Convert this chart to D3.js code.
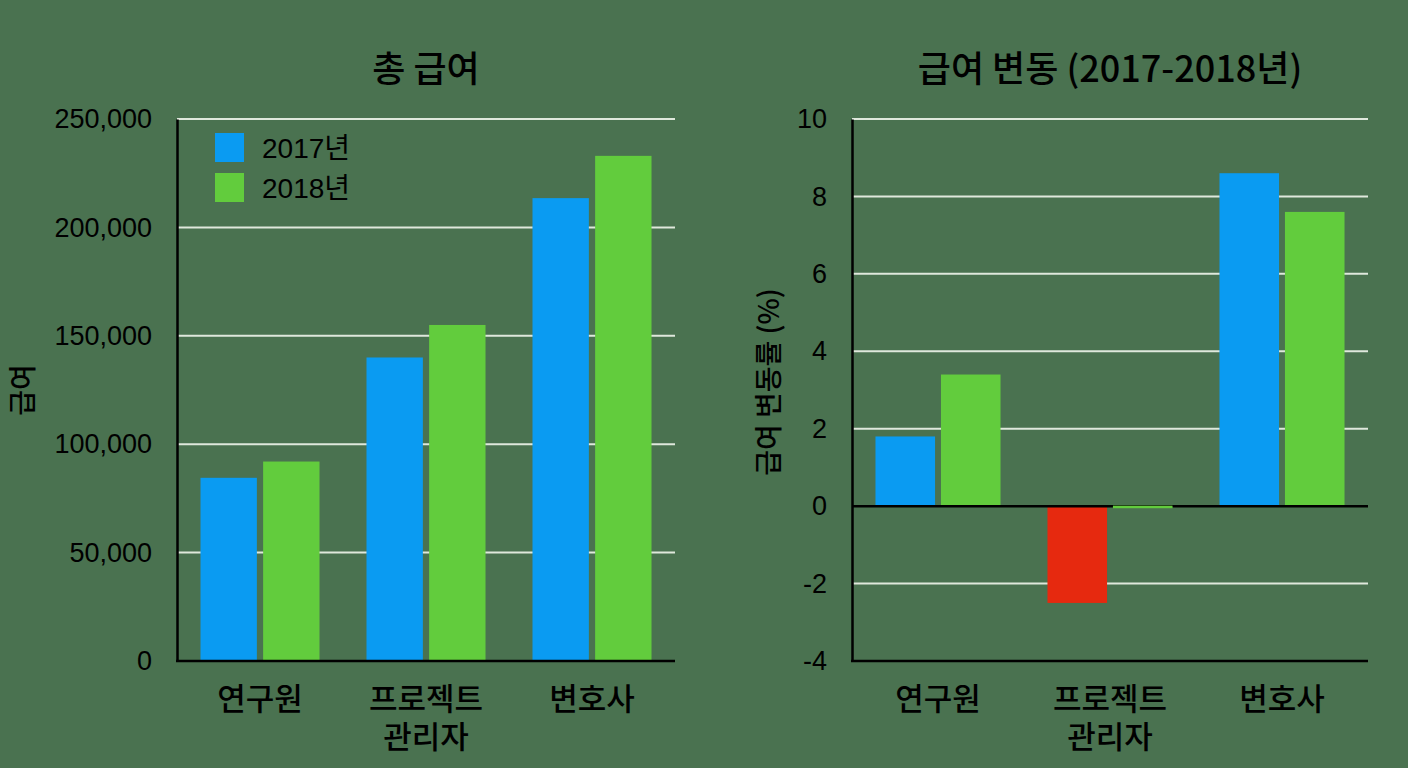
<!DOCTYPE html>
<html><head><meta charset="utf-8">
<script src="https://cdn.jsdelivr.net/npm/d3@7/dist/d3.min.js"></script>
<style>
html,body{margin:0;padding:0;background:#4a7250;}
text{font-family:"Noto Sans CJK KR","Noto Sans",sans-serif;fill:#000;}
</style></head>
<body><svg id="c" width="1408" height="768"></svg>
<script>
const categories = ["연구원", "프로젝트\n관리자", "변호사"];
const seriesNames = ["2017년", "2018년"];
const salary2017 = [84500, 140000, 213500];
const salary2018 = [92000, 155000, 233000];
const change2017 = [1.8, -2.5, 8.6];
const change2018 = [3.4, -0.05, 7.6];
const salaryTicks = [0, 50000, 100000, 150000, 200000, 250000];
const changeTicks = [-4, -2, 0, 2, 4, 6, 8, 10];
const colors = ["#0a9bf2", "#62cc3d"];
const negColor = "#e6290f";

const svg = d3.select("#c");
svg.append("rect").attr("width",1408).attr("height",768).attr("fill","#4a7250");

function drawChart(o){
  const g = svg.append("g");
  const x0 = d3.scaleBand().domain(categories).range([o.left,o.right])
      .paddingInner(o.pi).paddingOuter(o.pi/2);
  const x1 = d3.scaleBand().domain(seriesNames).range([0,x0.bandwidth()]).paddingInner(o.inner);
  const y = d3.scaleLinear().domain(o.domain).range([o.bottom,o.top]);
  g.selectAll(".grid").data(o.ticks.filter(t=>t!==o.domain[0] && t!==0))
    .join("line").attr("x1",o.left).attr("x2",o.right)
    .attr("y1",d=>y(d)).attr("y2",d=>y(d))
    .attr("stroke","#dfe8dc").attr("stroke-width",2);
  const data = [];
  categories.forEach((c,i)=>{
    o.series.forEach((s,j)=>data.push({c, s:seriesNames[j], v:s[i], j}));
  });
  g.selectAll(".bar").data(data).join("rect")
    .attr("x",d=>x0(d.c)+x1(d.s)).attr("width",x1.bandwidth())
    .attr("y",d=>y(Math.max(0,d.v))).attr("height",d=>Math.abs(y(d.v)-y(0)))
    .attr("fill",d=>(d.v<=-0.5)?negColor:colors[d.j]);
  if(o.domain[0]<0){
    g.append("line").attr("x1",o.left).attr("x2",o.right).attr("y1",y(0)).attr("y2",y(0))
      .attr("stroke","#000").attr("stroke-width",2.5);
    g.selectAll(".tiny").data(data.filter(d=>Math.abs(d.v)<0.3 && d.v!==0)).join("rect")
      .attr("x",d=>x0(d.c)+x1(d.s)).attr("width",x1.bandwidth())
      .attr("y",y(0)-0.5).attr("height",2.5).attr("fill",d=>colors[d.j]);
  }
  const ya = g.append("g").attr("transform",`translate(${o.left},0)`)
    .call(d3.axisLeft(y).tickValues(o.ticks).tickSize(0).tickPadding(25).tickFormat(o.fmt));
  ya.select(".domain").attr("stroke","#000").attr("stroke-width",2.5);
  ya.selectAll("text").attr("font-size",27).attr("fill","#000").style("font-family","'Liberation Sans',Arial,sans-serif");
  g.append("line").attr("x1",o.left-1).attr("x2",o.right).attr("y1",o.bottom).attr("y2",o.bottom)
    .attr("stroke","#000").attr("stroke-width",2.5);
  categories.forEach(c=>{
    c.split("\n").forEach((l,k)=>{
      g.append("text").attr("x",x0(c)+x0.bandwidth()/2).attr("y",o.bottom+49+k*38)
        .attr("text-anchor","middle").attr("font-size",31).attr("font-weight",500).text(l);
    });
  });
  g.append("text").attr("x",o.titleX).attr("y",82).attr("text-anchor","middle")
    .attr("font-size",36).attr("font-weight",500).text(o.title);
  g.append("text").attr("transform",`translate(${o.ytX},${o.ytY}) rotate(-90)`)
    .attr("text-anchor","middle").attr("font-size",28).attr("font-weight",500).text(o.yTitle);
  return {x0,x1,y};
}

const fmtSigned = d => String(d).replace("\u2212","-");

drawChart({left:177,right:675,top:119,bottom:661,pi:0.283,inner:0.1,
  domain:[0,250000],ticks:salaryTicks,fmt:d3.format(","),series:[salary2017,salary2018],
  title:"총 급여",titleX:426,yTitle:"급여",ytX:33,ytY:390});

drawChart({left:852,right:1368,top:119,bottom:661,pi:0.273,inner:0.09,
  domain:[-4,10],ticks:changeTicks,fmt:fmtSigned,series:[change2017,change2018],
  title:"급여 변동 (2017-2018년)",titleX:1110,yTitle:"급여 변동률 (%)",ytX:779,ytY:382});

const lg = svg.append("g");
seriesNames.forEach((s,i)=>{
  lg.append("rect").attr("x",215).attr("y",133+i*40).attr("width",29).attr("height",29).attr("fill",colors[i]);
  lg.append("text").attr("x",262).attr("y",158+i*40).attr("font-size",28)
    .style("font-family","'Liberation Sans',Arial,'Noto Sans CJK KR',sans-serif").text(s);
});
</script></body></html>
